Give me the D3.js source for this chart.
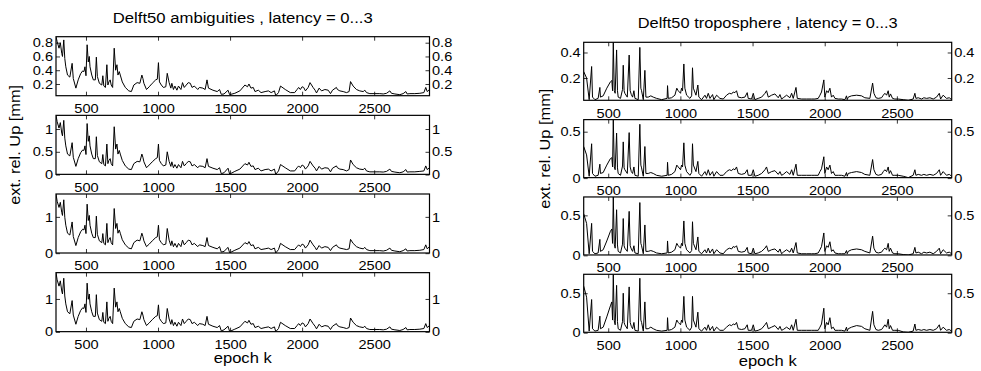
<!DOCTYPE html>
<html>
<head>
<meta charset="utf-8">
<script src="https://cdn.jsdelivr.net/npm/d3@7"></script>
<style>
  body { margin: 0; background: #fff; }
  svg { display: block; }
</style>
</head>
<body>
<svg id="chart" width="981" height="371"></svg>
<script>
// ---- Delft50 ambiguities: epochs and external reliability (Up, mm) for latency 0..3 ----
const ambEpoch = [
  292, 300, 313, 322, 332, 337, 346, 353, 360, 372,
  388, 404, 412, 430, 446, 463, 477, 486, 493, 500,
  508, 516, 523, 528, 540, 551, 565, 572, 579, 593,
  610, 617, 624, 635, 645, 652, 659, 668, 675, 685,
  696, 706, 715, 722, 731, 738, 752, 773, 797, 815,
  832, 855, 874, 888, 895, 902, 920, 939, 960, 984,
  995, 1003, 1010, 1023, 1037, 1054, 1064, 1077, 1089, 1096,
  1107, 1117, 1131, 1142, 1159, 1170, 1182, 1196, 1210, 1224,
  1236, 1252, 1276, 1287, 1311, 1327, 1340, 1350, 1381, 1411,
  1427, 1439, 1458, 1486, 1497, 1533, 1568, 1603, 1621, 1631,
  1645, 1661, 1673, 1696, 1715, 1743, 1766, 1785, 1808, 1817,
  1836, 1850, 1883, 1918, 1948, 1965, 1976, 1988, 2000, 2011,
  2023, 2042, 2055, 2076, 2090, 2100, 2118, 2135, 2158, 2181,
  2197, 2211, 2238, 2245, 2262, 2285, 2308, 2326, 2336, 2354,
  2377, 2400, 2424, 2435, 2447, 2470, 2505, 2539, 2563, 2586,
  2609, 2620, 2644, 2678, 2701, 2720, 2729, 2748, 2782, 2817,
  2845, 2858, 2868, 2884
];
const ambLat0 = [
  0.887, 0.815, 0.72, 0.80, 0.645, 0.60, 0.84, 0.57, 0.45, 0.33,
  0.30, 0.50, 0.28, 0.14, 0.26, 0.35, 0.39, 0.38, 0.45, 0.32,
  0.77, 0.52, 0.60, 0.45, 0.33, 0.26, 0.26, 0.59, 0.31, 0.21,
  0.185, 0.32, 0.17, 0.15, 0.48, 0.185, 0.23, 0.26, 0.185, 0.15,
  0.72, 0.40, 0.48, 0.33, 0.38, 0.33, 0.23, 0.15, 0.10, 0.09,
  0.185, 0.22, 0.21, 0.33, 0.28, 0.21, 0.12, 0.16, 0.21, 0.26,
  0.27, 0.51, 0.23, 0.185, 0.15, 0.16, 0.355, 0.22, 0.14, 0.21,
  0.12, 0.17, 0.11, 0.17, 0.12, 0.22, 0.15, 0.185, 0.22, 0.21,
  0.15, 0.17, 0.12, 0.15, 0.14, 0.12, 0.26, 0.14, 0.11, 0.09,
  0.12, 0.05, 0.055, 0.11, 0.045, 0.065, 0.10, 0.185, 0.16, 0.20,
  0.14, 0.15, 0.09, 0.11, 0.075, 0.09, 0.10, 0.075, 0.10, 0.03,
  0.075, 0.17, 0.12, 0.075, 0.075, 0.12, 0.15, 0.12, 0.16, 0.15,
  0.10, 0.15, 0.22, 0.15, 0.11, 0.07, 0.14, 0.10, 0.12, 0.11,
  0.06, 0.11, 0.15, 0.12, 0.10, 0.09, 0.075, 0.09, 0.235, 0.17,
  0.12, 0.10, 0.09, 0.11, 0.075, 0.06, 0.06, 0.06, 0.055, 0.065,
  0.10, 0.065, 0.055, 0.045, 0.06, 0.09, 0.055, 0.06, 0.06, 0.065,
  0.075, 0.15, 0.09, 0.12
];
const ambLat1 = [
  1.30, 1.16, 1.02, 1.14, 0.91, 0.85, 1.19, 0.80, 0.63, 0.45,
  0.41, 0.70, 0.38, 0.18, 0.35, 0.48, 0.54, 0.53, 0.63, 0.44,
  1.12, 0.73, 0.85, 0.63, 0.45, 0.35, 0.35, 0.83, 0.42, 0.28,
  0.24, 0.44, 0.22, 0.19, 0.67, 0.24, 0.31, 0.35, 0.24, 0.19,
  1.05, 0.56, 0.67, 0.45, 0.53, 0.45, 0.31, 0.19, 0.12, 0.11,
  0.24, 0.29, 0.28, 0.45, 0.38, 0.28, 0.15, 0.21, 0.28, 0.35,
  0.37, 0.67, 0.31, 0.24, 0.19, 0.21, 0.50, 0.29, 0.18, 0.28,
  0.15, 0.22, 0.14, 0.22, 0.15, 0.29, 0.19, 0.24, 0.29, 0.28,
  0.19, 0.22, 0.15, 0.19, 0.18, 0.15, 0.35, 0.18, 0.14, 0.11,
  0.15, 0.02, 0.04, 0.14, 0.01, 0.07, 0.12, 0.24, 0.21, 0.27,
  0.18, 0.19, 0.11, 0.14, 0.08, 0.11, 0.12, 0.08, 0.12, 0.005,
  0.08, 0.22, 0.15, 0.08, 0.08, 0.15, 0.19, 0.15, 0.21, 0.19,
  0.12, 0.19, 0.29, 0.19, 0.14, 0.08, 0.18, 0.12, 0.15, 0.14,
  0.06, 0.14, 0.19, 0.15, 0.12, 0.11, 0.08, 0.11, 0.32, 0.22,
  0.15, 0.12, 0.11, 0.14, 0.08, 0.06, 0.06, 0.06, 0.055, 0.07,
  0.12, 0.07, 0.055, 0.04, 0.06, 0.11, 0.055, 0.06, 0.06, 0.07,
  0.08, 0.19, 0.11, 0.15
];
const ambLat2 = [
  1.63, 1.43, 1.26, 1.40, 1.12, 1.04, 1.47, 0.99, 0.77, 0.55,
  0.50, 0.86, 0.46, 0.21, 0.43, 0.59, 0.66, 0.64, 0.77, 0.54,
  1.35, 0.90, 1.04, 0.77, 0.55, 0.43, 0.43, 1.02, 0.52, 0.34,
  0.29, 0.54, 0.27, 0.23, 0.82, 0.29, 0.37, 0.43, 0.29, 0.23,
  1.23, 0.68, 0.82, 0.55, 0.64, 0.55, 0.37, 0.23, 0.14, 0.12,
  0.29, 0.36, 0.34, 0.55, 0.46, 0.34, 0.18, 0.25, 0.34, 0.43,
  0.45, 0.77, 0.37, 0.29, 0.23, 0.25, 0.68, 0.36, 0.21, 0.34,
  0.18, 0.27, 0.16, 0.27, 0.18, 0.36, 0.23, 0.29, 0.36, 0.34,
  0.23, 0.27, 0.18, 0.23, 0.21, 0.18, 0.43, 0.21, 0.16, 0.12,
  0.18, 0.03, 0.05, 0.16, 0.01, 0.08, 0.14, 0.29, 0.25, 0.32,
  0.21, 0.23, 0.12, 0.16, 0.10, 0.12, 0.14, 0.10, 0.14, 0.005,
  0.10, 0.27, 0.18, 0.10, 0.10, 0.18, 0.23, 0.18, 0.25, 0.23,
  0.14, 0.23, 0.36, 0.23, 0.16, 0.09, 0.21, 0.14, 0.18, 0.16,
  0.07, 0.16, 0.23, 0.18, 0.14, 0.12, 0.10, 0.12, 0.38, 0.27,
  0.18, 0.14, 0.12, 0.16, 0.10, 0.07, 0.07, 0.07, 0.06, 0.08,
  0.14, 0.08, 0.06, 0.04, 0.07, 0.12, 0.06, 0.07, 0.07, 0.08,
  0.10, 0.23, 0.12, 0.18
];
const ambLat3 = [
  1.80, 1.58, 1.39, 1.55, 1.24, 1.15, 1.63, 1.09, 0.85, 0.61,
  0.55, 0.95, 0.51, 0.23, 0.47, 0.65, 0.73, 0.71, 0.85, 0.59,
  1.48, 0.99, 1.15, 0.85, 0.61, 0.47, 0.47, 1.13, 0.57, 0.37,
  0.32, 0.59, 0.29, 0.25, 0.91, 0.32, 0.41, 0.47, 0.32, 0.25,
  1.33, 0.75, 0.91, 0.61, 0.71, 0.61, 0.41, 0.25, 0.15, 0.13,
  0.32, 0.39, 0.37, 0.61, 0.51, 0.37, 0.19, 0.27, 0.37, 0.47,
  0.49, 0.82, 0.41, 0.32, 0.25, 0.27, 0.71, 0.39, 0.23, 0.37,
  0.19, 0.29, 0.17, 0.29, 0.19, 0.39, 0.25, 0.32, 0.39, 0.37,
  0.25, 0.29, 0.19, 0.25, 0.23, 0.19, 0.47, 0.23, 0.17, 0.13,
  0.19, 0.03, 0.06, 0.17, 0.01, 0.08, 0.15, 0.32, 0.27, 0.35,
  0.23, 0.25, 0.13, 0.17, 0.10, 0.13, 0.15, 0.10, 0.15, 0.005,
  0.10, 0.29, 0.19, 0.10, 0.10, 0.19, 0.25, 0.19, 0.27, 0.25,
  0.15, 0.25, 0.39, 0.25, 0.17, 0.09, 0.23, 0.15, 0.19, 0.17,
  0.07, 0.17, 0.25, 0.19, 0.15, 0.13, 0.10, 0.13, 0.42, 0.29,
  0.19, 0.15, 0.13, 0.17, 0.10, 0.07, 0.07, 0.07, 0.06, 0.08,
  0.15, 0.08, 0.06, 0.04, 0.07, 0.13, 0.06, 0.07, 0.07, 0.08,
  0.10, 0.25, 0.13, 0.19
];

// ---- Delft50 troposphere: epochs and external reliability (Up, mm) for latency 0..3 ----
const tropEpoch = [
  330, 350, 368, 385, 391, 408, 430, 442, 446, 465,
  490, 515, 525, 530, 535, 542, 548, 558, 564, 569,
  585, 599, 604, 610, 615, 632, 645, 652, 660, 669,
  678, 685, 708, 719, 726, 731, 743, 754, 761, 777,
  795, 812, 835, 870, 908, 911, 916, 939, 962, 975,
  985, 1001, 1008, 1015, 1024, 1031, 1043, 1066, 1078, 1084,
  1090, 1108, 1121, 1128, 1147, 1170, 1181, 1193, 1205, 1223,
  1232, 1251, 1274, 1297, 1320, 1339, 1355, 1366, 1378, 1389,
  1401, 1424, 1447, 1463, 1470, 1493, 1505, 1516, 1539, 1563,
  1586, 1597, 1609, 1632, 1655, 1678, 1690, 1701, 1713, 1736,
  1759, 1771, 1782, 1801, 1810, 1840, 1874, 1909, 1932, 1955,
  1967, 1978, 1994, 2001, 2013, 2024, 2036, 2047, 2059, 2071,
  2094, 2117, 2140, 2151, 2156, 2163, 2186, 2221, 2255, 2278,
  2313, 2332, 2341, 2355, 2371, 2394, 2406, 2417, 2429, 2440,
  2447, 2456, 2470, 2486, 2509, 2544, 2579, 2613, 2625, 2632,
  2648, 2671, 2687, 2706, 2729, 2752, 2775, 2794, 2803, 2821,
  2844, 2863, 2880
];
const tropLat0 = [
  0.25, 0.20, 0.03, 0.29, 0.05, 0.03, 0.04, 0.126, 0.05, 0.06,
  0.12, 0.17, 0.18, 0.10, 0.48, 0.10, 0.08, 0.42, 0.10, 0.05,
  0.04, 0.11, 0.30, 0.10, 0.08, 0.05, 0.38, 0.10, 0.07, 0.05,
  0.10, 0.04, 0.03, 0.44, 0.12, 0.10, 0.03, 0.26, 0.05, 0.05,
  0.06, 0.05, 0.04, 0.03, 0.04, 0.14, 0.04, 0.045, 0.065, 0.12,
  0.10, 0.08, 0.12, 0.10, 0.31, 0.12, 0.065, 0.04, 0.06, 0.28,
  0.12, 0.065, 0.145, 0.05, 0.03, 0.065, 0.04, 0.08, 0.04, 0.07,
  0.03, 0.065, 0.04, 0.035, 0.065, 0.08, 0.075, 0.09, 0.085, 0.10,
  0.05, 0.045, 0.05, 0.085, 0.04, 0.035, 0.08, 0.03, 0.04, 0.05,
  0.08, 0.10, 0.05, 0.065, 0.075, 0.045, 0.07, 0.035, 0.045, 0.065,
  0.045, 0.08, 0.04, 0.126, 0.04, 0.035, 0.035, 0.035, 0.035, 0.04,
  0.065, 0.09, 0.185, 0.05, 0.10, 0.085, 0.12, 0.05, 0.065, 0.04,
  0.035, 0.035, 0.03, 0.06, 0.03, 0.05, 0.06, 0.065, 0.06, 0.045,
  0.04, 0.16, 0.08, 0.045, 0.04, 0.045, 0.065, 0.08, 0.065, 0.10,
  0.05, 0.075, 0.04, 0.035, 0.035, 0.03, 0.025, 0.035, 0.08, 0.04,
  0.045, 0.035, 0.045, 0.04, 0.045, 0.035, 0.05, 0.08, 0.035, 0.065,
  0.04, 0.045, 0.03
];
const tropLat1 = [
  0.34, 0.25, 0.02, 0.37, 0.05, 0.02, 0.03, 0.15, 0.05, 0.06,
  0.14, 0.21, 0.22, 0.12, 0.63, 0.12, 0.09, 0.485, 0.11, 0.05,
  0.03, 0.13, 0.39, 0.11, 0.09, 0.05, 0.49, 0.12, 0.07, 0.05,
  0.12, 0.03, 0.02, 0.58, 0.14, 0.11, 0.02, 0.34, 0.05, 0.05,
  0.06, 0.05, 0.03, 0.02, 0.03, 0.17, 0.03, 0.04, 0.07, 0.14,
  0.12, 0.09, 0.14, 0.12, 0.38, 0.14, 0.07, 0.03, 0.06, 0.37,
  0.14, 0.07, 0.18, 0.05, 0.02, 0.07, 0.03, 0.09, 0.03, 0.07,
  0.02, 0.07, 0.03, 0.03, 0.07, 0.09, 0.08, 0.10, 0.09, 0.12,
  0.05, 0.04, 0.05, 0.09, 0.03, 0.03, 0.09, 0.02, 0.03, 0.05,
  0.09, 0.12, 0.05, 0.07, 0.08, 0.04, 0.07, 0.03, 0.04, 0.07,
  0.04, 0.09, 0.03, 0.15, 0.03, 0.03, 0.03, 0.03, 0.03, 0.03,
  0.07, 0.10, 0.23, 0.05, 0.12, 0.09, 0.14, 0.05, 0.07, 0.03,
  0.03, 0.03, 0.02, 0.06, 0.02, 0.05, 0.06, 0.07, 0.06, 0.04,
  0.03, 0.20, 0.09, 0.04, 0.03, 0.04, 0.07, 0.09, 0.07, 0.12,
  0.05, 0.08, 0.03, 0.03, 0.03, 0.02, 0.005, 0.03, 0.09, 0.03,
  0.04, 0.03, 0.04, 0.03, 0.04, 0.03, 0.05, 0.09, 0.03, 0.07,
  0.03, 0.04, 0.02
];
const tropLat2 = [
  0.52, 0.40, 0.02, 0.40, 0.05, 0.02, 0.03, 0.20, 0.05, 0.07,
  0.18, 0.30, 0.33, 0.15, 0.73, 0.14, 0.09, 0.57, 0.13, 0.05,
  0.03, 0.14, 0.46, 0.12, 0.09, 0.05, 0.55, 0.12, 0.08, 0.05,
  0.12, 0.03, 0.02, 0.66, 0.15, 0.12, 0.02, 0.38, 0.05, 0.05,
  0.06, 0.05, 0.03, 0.02, 0.03, 0.18, 0.03, 0.04, 0.07, 0.15,
  0.12, 0.09, 0.15, 0.12, 0.43, 0.15, 0.07, 0.03, 0.06, 0.42,
  0.15, 0.07, 0.23, 0.05, 0.02, 0.07, 0.03, 0.09, 0.03, 0.08,
  0.02, 0.07, 0.03, 0.02, 0.07, 0.09, 0.08, 0.11, 0.10, 0.12,
  0.05, 0.04, 0.05, 0.10, 0.03, 0.02, 0.09, 0.02, 0.03, 0.05,
  0.09, 0.12, 0.05, 0.07, 0.08, 0.04, 0.08, 0.02, 0.04, 0.07,
  0.04, 0.09, 0.03, 0.16, 0.03, 0.02, 0.02, 0.02, 0.02, 0.03,
  0.07, 0.11, 0.28, 0.05, 0.12, 0.10, 0.17, 0.05, 0.07, 0.03,
  0.02, 0.02, 0.02, 0.06, 0.02, 0.05, 0.07, 0.08, 0.07, 0.05,
  0.03, 0.24, 0.09, 0.04, 0.03, 0.04, 0.07, 0.09, 0.07, 0.15,
  0.05, 0.09, 0.03, 0.02, 0.02, 0.01, 0.005, 0.02, 0.10, 0.03,
  0.04, 0.02, 0.04, 0.03, 0.04, 0.02, 0.05, 0.09, 0.02, 0.07,
  0.03, 0.04, 0.02
];
const tropLat3 = [
  0.59, 0.45, 0.02, 0.42, 0.05, 0.02, 0.03, 0.21, 0.05, 0.07,
  0.20, 0.34, 0.39, 0.16, 0.74, 0.15, 0.10, 0.60, 0.14, 0.05,
  0.03, 0.14, 0.50, 0.13, 0.10, 0.05, 0.58, 0.13, 0.08, 0.05,
  0.13, 0.03, 0.02, 0.69, 0.16, 0.13, 0.02, 0.39, 0.05, 0.05,
  0.07, 0.05, 0.03, 0.02, 0.03, 0.19, 0.03, 0.04, 0.07, 0.16,
  0.13, 0.10, 0.16, 0.13, 0.46, 0.16, 0.07, 0.03, 0.07, 0.46,
  0.16, 0.07, 0.26, 0.05, 0.02, 0.07, 0.03, 0.10, 0.03, 0.08,
  0.02, 0.07, 0.03, 0.03, 0.07, 0.10, 0.09, 0.11, 0.10, 0.13,
  0.05, 0.04, 0.05, 0.10, 0.03, 0.03, 0.10, 0.02, 0.03, 0.05,
  0.10, 0.13, 0.05, 0.07, 0.09, 0.04, 0.08, 0.03, 0.04, 0.07,
  0.04, 0.10, 0.03, 0.17, 0.03, 0.03, 0.03, 0.03, 0.03, 0.03,
  0.07, 0.11, 0.31, 0.05, 0.13, 0.10, 0.19, 0.05, 0.07, 0.03,
  0.03, 0.03, 0.02, 0.07, 0.02, 0.05, 0.07, 0.09, 0.08, 0.05,
  0.03, 0.27, 0.10, 0.04, 0.03, 0.04, 0.07, 0.10, 0.07, 0.17,
  0.05, 0.09, 0.03, 0.03, 0.03, 0.01, 0.005, 0.02, 0.11, 0.03,
  0.04, 0.03, 0.04, 0.03, 0.04, 0.03, 0.05, 0.10, 0.03, 0.07,
  0.03, 0.04, 0.02
];

// ---- tick values ----
const epochTicks = [500, 1000, 1500, 2000, 2500];
const ambYTicks = [[0.2, 0.4, 0.6, 0.8], [0, 0.5, 1], [0, 1], [0, 1]];
const tropYTicks = [[0.2, 0.4], [0, 0.5], [0, 0.5], [0, 0.5]];

// ---- text ----
const ambTitle = "Delft50 ambiguities , latency = 0...3";
const tropTitle = "Delft50 troposphere , latency = 0...3";
const yLabelText = "ext. rel. Up [mm]";
const xLabelText = "epoch k";

const FONT = '"Liberation Sans", Arial, Helvetica, sans-serif';
const TICK_FONT = 13;
const TICK_STRETCH = 1.12;   // tick digits are set slightly wide
const svg = d3.select("#chart");

let clipId = 0;

function drawColumn(opt) {
  const x = d3.scaleLinear().domain(d3.extent(opt.epochs)).range([opt.left, opt.right]);
  const panels = [];

  opt.series.forEach((vals, i) => {
    const top = opt.top0 + i * opt.step;
    const bottom = top + opt.height;
    // tight y-limits, as in the plotted data
    const y = d3.scaleLinear().domain(d3.extent(vals)).range([bottom, top]);
    const g = svg.append("g");

    const id = "clip" + (clipId++);
    g.append("clipPath").attr("id", id)
      .append("rect")
      .attr("x", opt.left).attr("y", top)
      .attr("width", opt.right - opt.left).attr("height", bottom - top);

    const line = d3.line()
      .x((d, j) => x(opt.epochs[j]))
      .y(d => y(d));

    g.append("path")
      .datum(vals)
      .attr("clip-path", `url(#${id})`)
      .attr("d", line)
      .attr("fill", "none")
      .attr("stroke", "#000")
      .attr("stroke-width", 1)
      .attr("stroke-linejoin", "round");

    const styleAxis = sel => {
      sel.select(".domain").remove();
      sel.attr("font-size", TICK_FONT).attr("font-family", FONT);
      sel.selectAll(".tick line").attr("stroke", "#000").attr("stroke-width", 0.8);
      sel.selectAll(".tick text").attr("fill", "#000").each(function () {
        const w = this.getComputedTextLength();
        if (w > 0) {
          d3.select(this)
            .attr("textLength", w * TICK_STRETCH)
            .attr("lengthAdjust", "spacingAndGlyphs");
        }
      });
    };

    const fmt = d => String(d);

    g.append("g")
      .attr("transform", `translate(0,${bottom})`)
      .call(d3.axisBottom(x).tickValues(epochTicks).tickSizeInner(-4).tickSizeOuter(0).tickPadding(8).tickFormat(fmt))
      .call(styleAxis);

    g.append("g")
      .attr("transform", `translate(0,${top})`)
      .call(d3.axisTop(x).tickValues(epochTicks).tickSizeInner(-4).tickSizeOuter(0).tickFormat(""))
      .call(styleAxis);

    g.append("g")
      .attr("transform", `translate(${opt.left},0)`)
      .call(d3.axisLeft(y).tickValues(opt.yTicks[i]).tickSizeInner(-4).tickSizeOuter(0).tickPadding(3).tickFormat(fmt))
      .call(styleAxis);

    g.append("g")
      .attr("transform", `translate(${opt.right},0)`)
      .call(d3.axisRight(y).tickValues(opt.yTicks[i]).tickSizeInner(-4).tickSizeOuter(0).tickPadding(2.5).tickFormat(fmt))
      .call(styleAxis);

    g.append("rect")
      .attr("x", opt.left).attr("y", top)
      .attr("width", opt.right - opt.left).attr("height", bottom - top)
      .attr("fill", "none")
      .attr("stroke", "#000")
      .attr("stroke-width", 1.2);

    panels.push({ top, bottom });
  });

  const cx = (opt.left + opt.right) / 2;

  svg.append("text")
    .attr("x", cx).attr("y", opt.titleY)
    .attr("text-anchor", "middle")
    .attr("font-family", FONT).attr("font-size", 14)
    .attr("textLength", 260).attr("lengthAdjust", "spacingAndGlyphs")
    .text(opt.title);

  svg.append("text")
    .attr("x", cx).attr("y", opt.xLabelY)
    .attr("text-anchor", "middle")
    .attr("font-family", FONT).attr("font-size", 14)
    .attr("textLength", 58).attr("lengthAdjust", "spacingAndGlyphs")
    .text(xLabelText);

  const p2 = panels[1];
  const cy = (p2.top + p2.bottom) / 2;
  svg.append("text")
    .attr("transform", `translate(${opt.yLabelX},${cy}) rotate(-90)`)
    .attr("text-anchor", "middle")
    .attr("font-family", FONT).attr("font-size", 15)
    .attr("textLength", 120).attr("lengthAdjust", "spacingAndGlyphs")
    .text(yLabelText);
}

drawColumn({
  epochs: ambEpoch,
  series: [ambLat0, ambLat1, ambLat2, ambLat3],
  yTicks: ambYTicks,
  left: 56, right: 429.5,
  top0: 36.7, step: 78.65, height: 59,
  title: ambTitle, titleY: 22.5,
  xLabelY: 363, yLabelX: 20
});

drawColumn({
  epochs: tropEpoch,
  series: [tropLat0, tropLat1, tropLat2, tropLat3],
  yTicks: tropYTicks,
  left: 583.7, right: 951.7,
  top0: 42.3, step: 77.33, height: 58,
  title: tropTitle, titleY: 27.5,
  xLabelY: 366, yLabelX: 550
});
</script>
</body>
</html>
